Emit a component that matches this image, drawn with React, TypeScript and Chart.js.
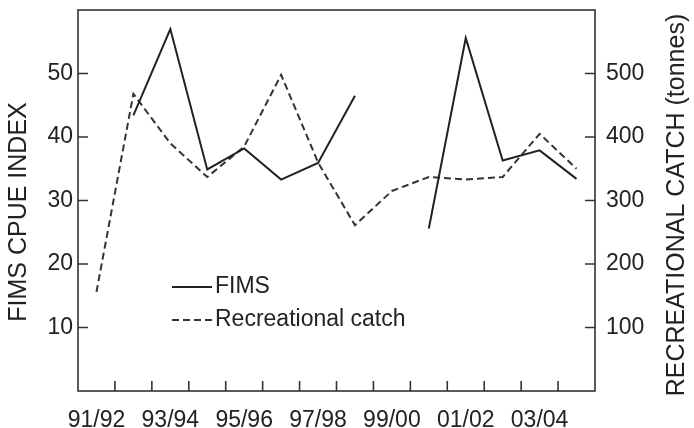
import React, { useEffect, useRef } from 'react';
import { Chart, registerables } from 'chart.js';

Chart.register(...registerables);

const categories = ['91/92', '92/93', '93/94', '94/95', '95/96', '96/97', '97/98', '98/99', '99/00', '00/01', '01/02', '02/03', '03/04', '04/05'];
const shownLabels = ['91/92', '93/94', '95/96', '97/98', '99/00', '01/02', '03/04'];
const fimsValues: (number | null)[] = [null, 43.4, 57.0, 34.9, 38.2, 33.3, 35.9, 46.5, null, 25.6, 55.6, 36.3, 37.9, 33.4];
const recreationalValues: (number | null)[] = [156, 468, 390, 337, 385, 498, 360, 261, 315, 337, 333, 337, 405, 350];
const leftTicks = [10, 20, 30, 40, 50];
const rightTicks = [100, 200, 300, 400, 500];

const INK = '#222';
const FONT = "'Liberation Sans', Arial, Helvetica, sans-serif";

const framePlugin = {
  id: 'frameAndLegend',
  afterDraw(chart: any) {
    const { ctx, chartArea: a, scales } = chart;
    const TL = 10;
    ctx.save();
    ctx.strokeStyle = '#333';
    ctx.lineWidth = 1.6;
    ctx.strokeRect(a.left, a.top, a.right - a.left, a.bottom - a.top);
    ctx.beginPath();
    leftTicks.forEach((v) => {
      const y = scales.y.getPixelForValue(v);
      ctx.moveTo(a.left, y);
      ctx.lineTo(a.left + TL, y);
    });
    rightTicks.forEach((v) => {
      const y = scales.y1.getPixelForValue(v);
      ctx.moveTo(a.right - TL, y);
      ctx.lineTo(a.right, y);
    });
    for (let i = 1; i < categories.length; i++) {
      const x = (scales.x.getPixelForValue(i - 1) + scales.x.getPixelForValue(i)) / 2;
      ctx.moveTo(x, a.bottom);
      ctx.lineTo(x, a.bottom - TL);
    }
    ctx.stroke();

    // axis titles
    ctx.fillStyle = INK;
    ctx.textAlign = 'center';
    ctx.textBaseline = 'middle';
    ctx.font = `25px ${FONT}`;
    ctx.save();
    ctx.translate(19, 212);
    ctx.rotate(-Math.PI / 2);
    ctx.fillText('FIMS CPUE INDEX', 0, 0);
    ctx.restore();
    ctx.save();
    ctx.translate(677, 205);
    ctx.rotate(-Math.PI / 2);
    ctx.fillText('RECREATIONAL CATCH (tonnes)', 0, 0);
    ctx.restore();

    // legend
    const items = chart.data.datasets;
    const ys = [287, 320];
    ctx.font = `23px ${FONT}`;
    ctx.textAlign = 'left';
    items.forEach((ds: any, i: number) => {
      ctx.save();
      ctx.strokeStyle = ds.borderColor;
      ctx.lineWidth = ds.borderWidth;
      ctx.setLineDash(ds.borderDash || []);
      ctx.beginPath();
      ctx.moveTo(172, ys[i]);
      ctx.lineTo(212, ys[i]);
      ctx.stroke();
      ctx.restore();
      ctx.fillText(ds.label, 215, ys[i]);
    });
    ctx.restore();
  },
};

export default function App() {
  const ref = useRef<HTMLCanvasElement>(null);
  useEffect(() => {
    if (!ref.current) return;
    const chart = new Chart(ref.current, {
      type: 'line',
      data: {
        labels: categories,
        datasets: [
          {
            label: 'FIMS',
            data: fimsValues,
            yAxisID: 'y',
            borderColor: '#222',
            borderWidth: 2,
            pointRadius: 0,
            tension: 0,
            spanGaps: false,
            fill: false,
          },
          {
            label: 'Recreational catch',
            data: recreationalValues,
            yAxisID: 'y1',
            borderColor: '#333',
            borderWidth: 2,
            borderDash: [7, 4],
            pointRadius: 0,
            tension: 0,
            spanGaps: false,
            fill: false,
          },
        ],
      },
      options: {
        responsive: false,
        animation: false,
        devicePixelRatio: 1,
        layout: { padding: { top: 10, left: 0, right: 0, bottom: 0 } },
        plugins: { legend: { display: false }, tooltip: { enabled: false } },
        scales: {
          x: {
            type: 'category',
            offset: true,
            grid: { display: false, drawTicks: false },
            border: { display: false },
            ticks: {
              autoSkip: false,
              maxRotation: 0,
              minRotation: 0,
              padding: 16,
              color: INK,
              font: { family: FONT, size: 23 },
              callback: (_v: any, i: number) => (shownLabels.includes(categories[i]) ? categories[i] : ''),
            },
            afterFit: (s: any) => {
              s.height = 37;
              s.paddingLeft = 0;
              s.paddingRight = 0;
            },
          },
          y: {
            position: 'left',
            min: 0,
            max: 60,
            grid: { display: false, drawTicks: false },
            border: { display: false },
            ticks: {
              stepSize: 10,
              padding: 5,
              color: INK,
              font: { family: FONT, size: 23 },
              callback: (v: any) => (leftTicks.includes(Number(v)) ? String(v) : ''),
            },
            afterFit: (s: any) => {
              s.width = 78;
              s.paddingTop = 0;
              s.paddingBottom = 0;
            },
          },
          y1: {
            position: 'right',
            min: 0,
            max: 600,
            grid: { display: false, drawTicks: false },
            border: { display: false },
            ticks: {
              stepSize: 100,
              padding: 11,
              color: INK,
              font: { family: FONT, size: 23 },
              callback: (v: any) => (rightTicks.includes(Number(v)) ? String(v) : ''),
            },
            afterFit: (s: any) => {
              s.width = 99;
              s.paddingTop = 0;
              s.paddingBottom = 0;
            },
          },
        },
      },
      plugins: [framePlugin],
    });
    return () => chart.destroy();
  }, []);
  return (
    <div style={{ position: 'fixed', left: 0, top: 0, width: 694, height: 428, background: '#fff' }}>
      <canvas ref={ref} width={694} height={428} style={{ width: 694, height: 428, display: 'block' }} />
    </div>
  );
}
